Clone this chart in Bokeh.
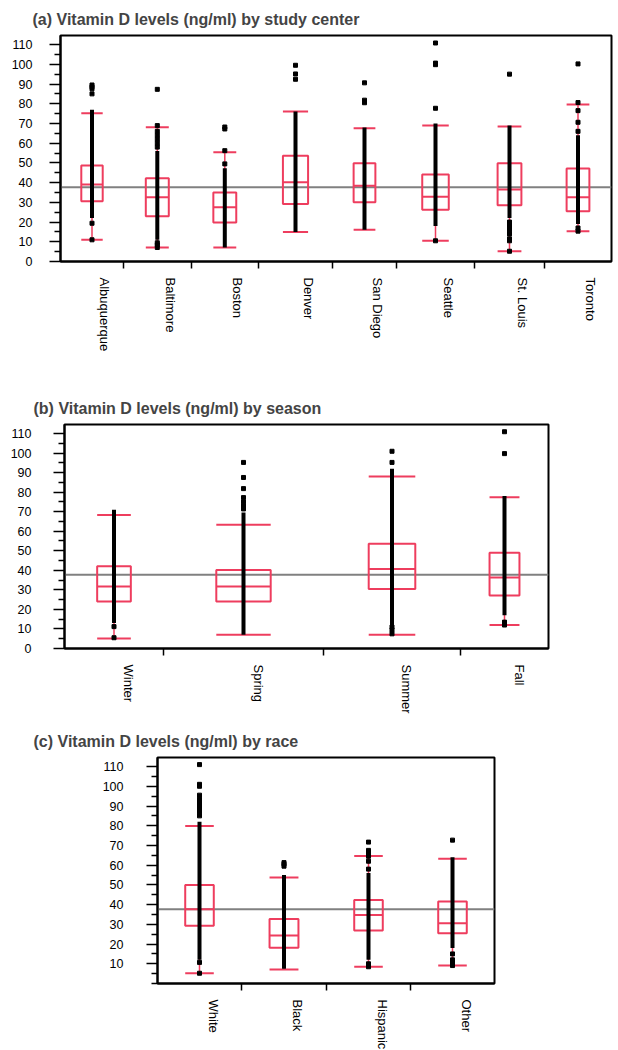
import math
from bokeh.plotting import figure
from bokeh.layouts import column
from bokeh.models import Range1d, FixedTicker, Span
from bokeh.embed import file_html
from bokeh.resources import INLINE

# ---------------- data (ng/ml) ----------------
GRAND_MEAN = 37.7

# (a) study center
centers = ["Albuquerque", "Baltimore", "Boston", "Denver", "San Diego", "Seattle", "St. Louis", "Toronto"]
center_width = [63, 67.6, 67.4, 74, 64, 78, 70, 67]          # relative column widths (group size)
center_q1 = [30.6, 23.0, 19.8, 29.2, 30.1, 26.2, 28.5, 25.5]
center_med = [39.0, 32.6, 27.5, 40.2, 38.4, 32.8, 36.5, 32.6]
center_q3 = [48.7, 42.2, 35.0, 53.6, 49.8, 44.1, 49.8, 47.1]
center_lo = [11.0, 7.1, 7.1, 14.9, 16.1, 10.5, 5.2, 15.4]
center_hi = [75.2, 68.1, 55.4, 76.0, 67.6, 68.9, 68.4, 79.6]
center_dense_lo = [22.0, 11.0, 7.1, 15.0, 16.1, 18.0, 22.0, 19.0]
center_dense_hi = [77.0, 56.0, 47.3, 76.0, 68.0, 70.0, 69.0, 64.0]
center_points = [
    [11.0, 19.4, 85.0, 87.6, 88.6, 89.5],
    [7.1, 8.5, 9.5, 58.0, 60.0, 62.0, 64.0, 66.0, 68.9, 87.3],
    [49.5, 56.2, 67.2, 68.2],
    [92.4, 95.1, 99.5],
    [80.5, 81.8, 90.6],
    [10.5, 77.7, 99.8, 100.6, 110.8],
    [5.2, 10.5, 11.5, 14.0, 16.0, 18.0, 20.0, 95.0],
    [15.4, 17.0, 66.0, 70.6, 76.5, 80.6, 100.2],
]

# (b) season
seasons = ["Winter", "Spring", "Summer", "Fall"]
season_width = [99, 160, 137, 88]
season_q1 = [24.1, 24.1, 30.5, 27.1]
season_med = [31.7, 31.7, 40.7, 36.3]
season_q3 = [42.1, 40.2, 53.6, 49.0]
season_lo = [5.1, 7.0, 7.0, 12.0]
season_hi = [68.3, 63.3, 88.0, 77.4]
season_dense_lo = [13.0, 7.0, 12.0, 17.0]
season_dense_hi = [71.0, 69.6, 92.0, 78.0]
season_points = [
    [5.5, 11.2],
    [71.4, 72.9, 75.0, 77.2, 81.8, 87.5, 95.2],
    [7.5, 9.5, 11.0, 95.2, 100.9],
    [12.0, 13.5, 99.7, 110.9],
]

# (c) race
races = ["White", "Black", "Hispanic", "Other"]
race_width = [84, 85, 84, 84]
race_q1 = [29.3, 18.1, 26.9, 25.5]
race_med = [37.6, 24.4, 34.7, 30.6]
race_q3 = [49.9, 32.7, 42.3, 41.6]
race_lo = [5.2, 7.1, 8.5, 9.1]
race_hi = [79.9, 53.8, 64.6, 63.3]
race_dense_lo = [12.0, 7.5, 12.0, 18.0]
race_dense_hi = [82.0, 55.0, 56.0, 64.0]
race_points = [
    [5.2, 10.7, 85.0, 87.0, 89.0, 90.5, 92.0, 93.5, 95.5, 100.0, 101.0, 111.0],
    [59.5, 60.5, 61.3],
    [8.5, 10.0, 58.0, 62.0, 64.5, 66.0, 67.5, 71.7],
    [9.1, 10.5, 12.0, 15.0, 72.7],
]

ytick_all = [0, 10, 20, 30, 40, 50, 60, 70, 80, 90, 100, 110]
ytick_no0 = [10, 20, 30, 40, 50, 60, 70, 80, 90, 100, 110]

# ---------------- styling ----------------
RED = "#EE3D5E"
GRAY = "#808080"
FONT = "Liberation Sans"
YMAX = 114.6
BOX_FRAC = 0.34


def make_panel(title_text, cats, widths, q1, med, q3, lo, hi, dlo, dhi, pts, yticks,
               b_left, b_top, b_bottom, b_right, frame_h, ylab_standoff, title_x, label_shift):
    n = len(cats)
    edges = [0.0]
    for w in widths:
        edges.append(edges[-1] + w)
    xc = [(edges[i] + edges[i + 1]) / 2 for i in range(n)]
    half = [BOX_FRAC * w / 2 for w in widths]
    total = edges[-1]

    p = figure(frame_width=int(round(total)), frame_height=frame_h,
               x_range=Range1d(0, total), y_range=Range1d(0, YMAX),
               output_backend="svg", toolbar_location=None,
               min_border_left=b_left, min_border_top=b_top,
               min_border_bottom=b_bottom, min_border_right=b_right,
               title=title_text)
    p.background_fill_color = "white"
    p.border_fill_color = "white"
    p.outline_line_color = "black"
    p.outline_line_width = 2
    p.xgrid.visible = False
    p.ygrid.visible = False

    p.title.text_font = FONT
    p.title.text_font_style = "bold"
    p.title.text_font_size = "16px"
    p.title.align = "left"
    p.title.offset = title_x - b_left
    p.title.standoff = 16

    yminor = [v for v in range(0, 115, 5) if v not in yticks]
    yax = p.yaxis[0]
    yax.ticker = FixedTicker(ticks=yticks, minor_ticks=yminor)
    yax.major_tick_out = 11
    yax.major_tick_in = 0
    yax.minor_tick_out = 6
    yax.minor_tick_in = 0
    yax.major_tick_line_width = 1.5
    yax.minor_tick_line_width = 1.5
    yax.axis_line_width = 2
    yax.major_label_text_font = FONT
    yax.major_label_text_font_size = "12.5px"
    yax.major_label_text_color = "black"
    yax.major_label_standoff = ylab_standoff

    label_pos = [int(round(c + label_shift)) for c in xc]
    xax = p.xaxis[0]
    xax.ticker = FixedTicker(ticks=label_pos, minor_ticks=edges[1:-1])
    xax.major_label_overrides = {lp: c for lp, c in zip(label_pos, cats)}
    xax.major_label_orientation = -math.pi / 2
    xax.major_tick_out = 0
    xax.major_tick_in = 0
    xax.minor_tick_out = 7
    xax.minor_tick_in = 0
    xax.minor_tick_line_width = 1.5
    xax.axis_line_width = 2
    xax.major_label_text_font = FONT
    xax.major_label_text_font_size = "13px"
    xax.major_label_text_color = "black"
    xax.major_label_standoff = 9

    p.add_layout(Span(location=GRAND_MEAN, dimension="width", line_color=GRAY,
                      line_width=2, level="underlay"))

    left = [c - h for c, h in zip(xc, half)]
    right = [c + h for c, h in zip(xc, half)]
    # whiskers
    p.segment(x0=xc, y0=q3, x1=xc, y1=hi, line_color=RED, line_width=1.5)
    p.segment(x0=xc, y0=q1, x1=xc, y1=lo, line_color=RED, line_width=1.5)
    # caps
    p.segment(x0=left, y0=hi, x1=right, y1=hi, line_color=RED, line_width=2)
    p.segment(x0=left, y0=lo, x1=right, y1=lo, line_color=RED, line_width=2)
    # boxes + median
    p.quad(left=left, right=right, bottom=q1, top=q3, fill_color=None,
           line_color=RED, line_width=2)
    p.segment(x0=left, y0=med, x1=right, y1=med, line_color=RED, line_width=2)
    # observations
    p.segment(x0=xc, y0=dlo, x1=xc, y1=dhi, line_color="black", line_width=4)
    px, py = [], []
    for c, plist in zip(xc, pts):
        for v in plist:
            px.append(c)
            py.append(v)
    p.scatter(px, py, marker="square", size=4, color="black")
    return p


pa = make_panel("(a) Vitamin D levels (ng/ml) by study center", centers, center_width,
                center_q1, center_med, center_q3, center_lo, center_hi,
                center_dense_lo, center_dense_hi, center_points, ytick_all,
                b_left=60, b_top=35, b_bottom=110, b_right=4, frame_h=226,
                ylab_standoff=17, title_x=32, label_shift=13)

pb = make_panel("(b) Vitamin D levels (ng/ml) by season", seasons, season_width,
                season_q1, season_med, season_q3, season_lo, season_hi,
                season_dense_lo, season_dense_hi, season_points, ytick_all,
                b_left=64, b_top=53, b_bottom=62, b_right=10, frame_h=224,
                ylab_standoff=22, title_x=33, label_shift=15)

pc = make_panel("(c) Vitamin D levels (ng/ml) by race", races, race_width,
                race_q1, race_med, race_q3, race_lo, race_hi,
                race_dense_lo, race_dense_hi, race_points, ytick_no0,
                b_left=157, b_top=41, b_bottom=58, b_right=10, frame_h=226,
                ylab_standoff=23, title_x=33, label_shift=14)

layout = column(column(pa), column(pb), column(pc))
open("out.html", "w").write(file_html(layout, INLINE))
